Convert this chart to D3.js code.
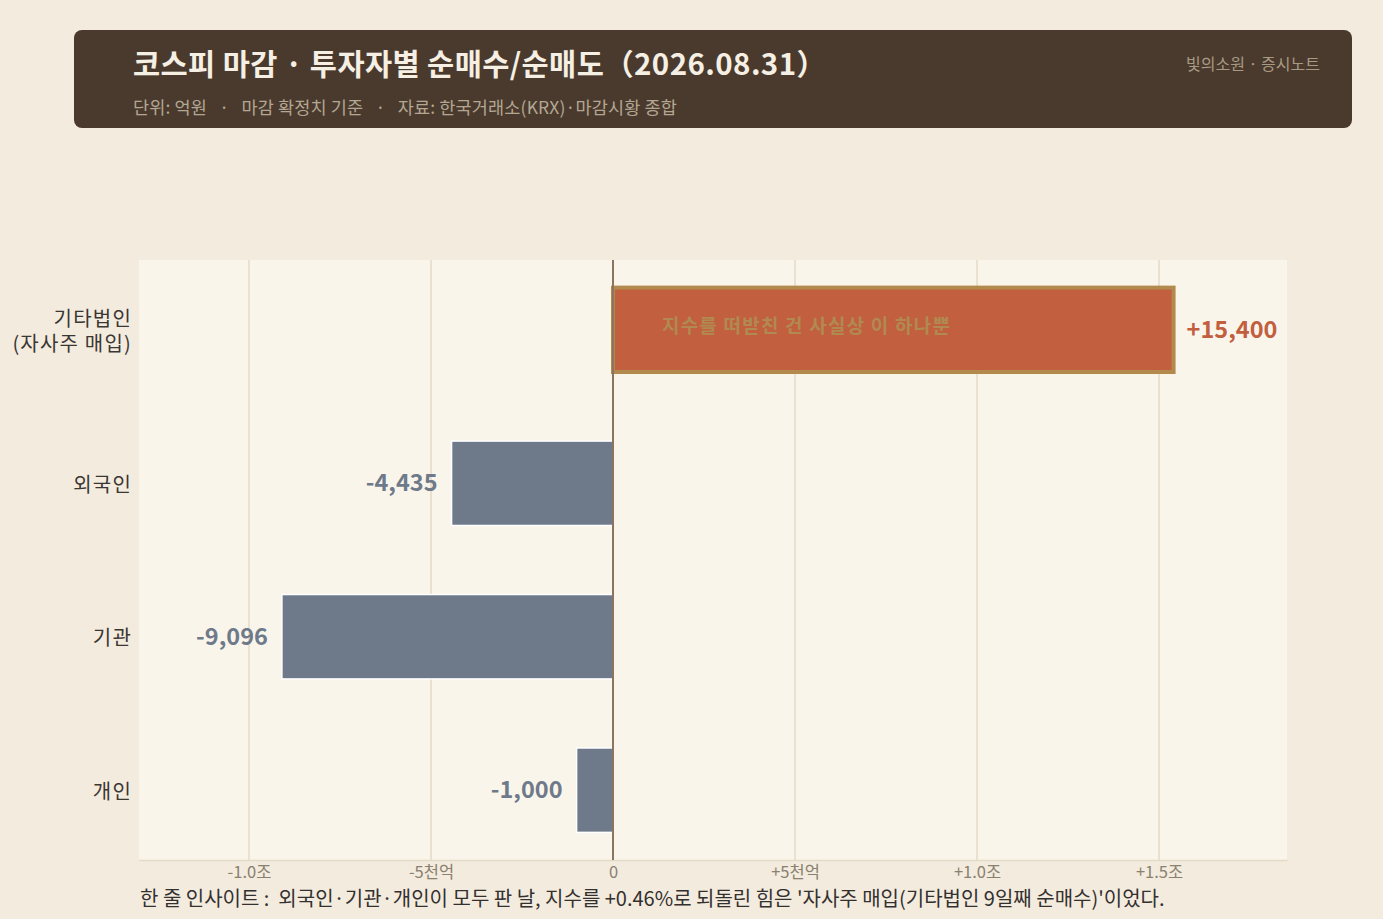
<!DOCTYPE html>
<html>
<head>
<meta charset="utf-8">
<script src="https://cdn.jsdelivr.net/npm/d3@7"></script>
<style>
  body { margin: 0; background: #f3ebdd; }
  svg text { font-family: "Noto Sans CJK KR", "Noto Sans", sans-serif; }
</style>
</head>
<body>
<svg id="chart" width="1383" height="919"></svg>
<script>
// data
const categories = ["기타법인\n(자사주 매입)", "외국인", "기관", "개인"];
const values = [15400, -4435, -9096, -1000];
const valueLabels = ["+15,400", "-4,435", "-9,096", "-1,000"];
const tickValues = [-10000, -5000, 0, 5000, 10000, 15000];
const tickLabels = ["-1.0조", "-5천억", "0", "+5천억", "+1.0조", "+1.5조"];

const svg = d3.select("#chart");
const W = 1383, H = 919;

svg.append("rect").attr("width", W).attr("height", H).attr("fill", "#f3ebdd");

// header
svg.append("rect")
  .attr("x", 74).attr("y", 30).attr("width", 1278).attr("height", 98)
  .attr("rx", 8).attr("fill", "#4a3a2e");
svg.append("text")
  .attr("x", 133).attr("y", 75)
  .attr("font-size", 29.5).attr("font-weight", "bold").attr("fill", "#f6efe3")
  .attr("letter-spacing", 0.4)
  .text("코스피 마감 · 투자자별 순매수/순매도（2026.08.31）");
svg.append("text")
  .attr("x", 133).attr("y", 114)
  .attr("font-size", 17.5).attr("fill", "#b3a792")
  .attr("letter-spacing", 0.15)
  .attr("xml:space", "preserve")
  .text("단위: 억원   ·   마감 확정치 기준   ·   자료: 한국거래소(KRX)·마감시황 종합");
svg.append("text")
  .attr("x", 1320).attr("y", 70).attr("text-anchor", "end")
  .attr("font-size", 16).attr("fill", "#a89a82")
  .text("빛의소원 · 증시노트");

// plot
const pLeft = 139, pRight = 1287, pTop = 260, pBottom = 860;
const x = d3.scaleLinear().domain([-13022, 18516]).range([pLeft, pRight]);
const y = d3.scaleBand().domain(categories).range([pTop, pBottom])
  .paddingInner(0.45).paddingOuter(0.18);

svg.append("rect")
  .attr("x", pLeft).attr("y", pTop).attr("width", pRight - pLeft).attr("height", pBottom - pTop)
  .attr("fill", "#faf5eb");

// grid
svg.append("g").selectAll("line")
  .data(tickValues.filter(d => d !== 0))
  .join("line")
  .attr("x1", d => x(d)).attr("x2", d => x(d))
  .attr("y1", pTop).attr("y2", pBottom)
  .attr("stroke", "#e4dac6").attr("stroke-width", 1.5);

// x axis
const xAxis = d3.axisBottom(x).tickValues(tickValues)
  .tickFormat((d, i) => tickLabels[i]).tickSize(0).tickPadding(6);
const gx = svg.append("g").attr("transform", `translate(0,${pBottom})`).call(xAxis);
gx.select(".domain").attr("stroke", "#e4dac6").attr("stroke-width", 1.5);
gx.selectAll("text")
  .attr("font-size", 16.5).attr("fill", "#8a8070")
  .style("font-family", "'Noto Sans CJK KR', sans-serif");

// bars
svg.append("g").selectAll("rect")
  .data(values)
  .join("rect")
  .attr("x", d => x(Math.min(0, d)))
  .attr("y", (d, i) => y(categories[i]))
  .attr("width", d => Math.abs(x(d) - x(0)))
  .attr("height", y.bandwidth())
  .attr("fill", d => d > 0 ? "#c25f3f" : "#6e7a8a")
  .attr("stroke", d => d > 0 ? "#b38a4d" : "#ffffff")
  .attr("stroke-width", d => d > 0 ? 4 : 1.5);

// zero line
svg.append("line")
  .attr("x1", x(0)).attr("x2", x(0)).attr("y1", pTop).attr("y2", pBottom)
  .attr("stroke", "#8b7460").attr("stroke-width", 2);

// value labels
svg.append("g").selectAll("text")
  .data(values)
  .join("text")
  .attr("x", d => d > 0 ? x(d) + 13 : x(d) - 14)
  .attr("y", (d, i) => y(categories[i]) + y.bandwidth() / 2)
  .attr("dy", "0.35em")
  .attr("text-anchor", d => d > 0 ? "start" : "end")
  .attr("font-size", 23.5).attr("font-weight", "bold")
  .attr("fill", d => d > 0 ? "#c25f3f" : "#6e7a8a")
  .text((d, i) => valueLabels[i]);

// annotation inside top bar
svg.append("text")
  .attr("x", x(0) + 49)
  .attr("y", y(categories[0]) + y.bandwidth() / 2 - 3)
  .attr("dy", "0.35em")
  .attr("font-size", 19).attr("font-weight", "bold").attr("fill", "#b08a50")
  .attr("letter-spacing", 1.2)
  .text("지수를 떠받친 건 사실상 이 하나뿐");

// y labels
categories.forEach(c => {
  const lines = c.split("\n");
  const cy = y(c) + y.bandwidth() / 2;
  const t = svg.append("text")
    .attr("text-anchor", "end").attr("font-size", 20).attr("fill", "#3a3633")
    .attr("letter-spacing", 1.2);
  lines.forEach((ln, k) => {
    t.append("tspan")
      .attr("x", 132)
      .attr("y", cy + 2 + (k - (lines.length - 1) / 2) * 25)
      .attr("dy", "0.32em")
      .text(ln);
  });
});

// footer insight
svg.append("text")
  .attr("x", 140).attr("y", 906)
  .attr("font-size", 20).attr("fill", "#333030")
  .attr("xml:space", "preserve")
  .text("한 줄 인사이트 :  외국인·기관·개인이 모두 판 날, 지수를 +0.46%로 되돌린 힘은 '자사주 매입(기타법인 9일째 순매수)'이었다.");
</script>
</body>
</html>
